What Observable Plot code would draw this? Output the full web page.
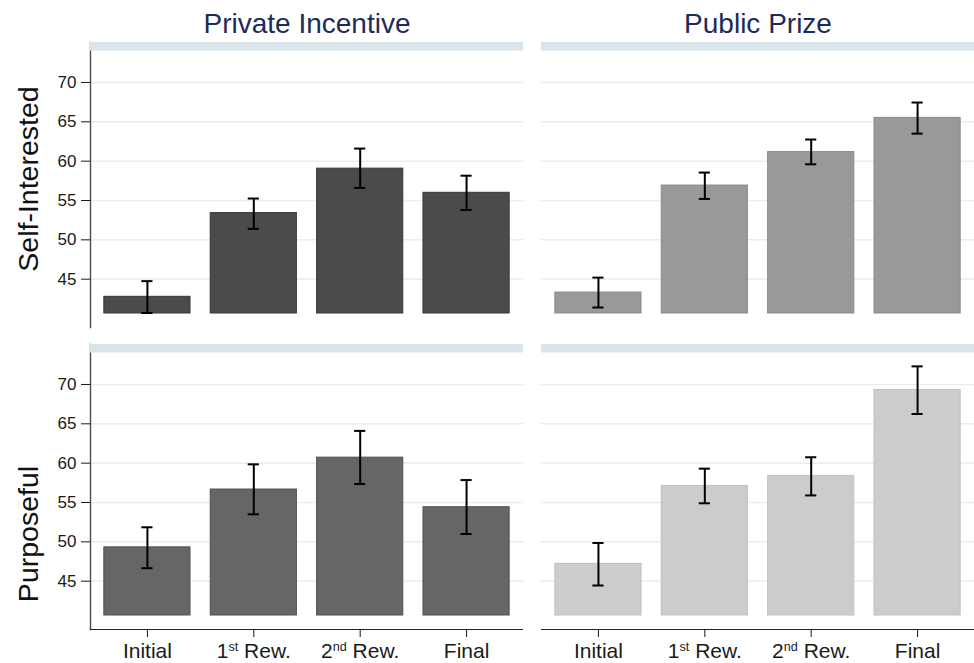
<!DOCTYPE html>
<html><head><meta charset="utf-8">
<script src="https://cdn.jsdelivr.net/npm/d3@7"></script>
<script src="https://cdn.jsdelivr.net/npm/@observablehq/plot@0.6"></script>
<style>body{margin:0;background:#fff} svg{display:block}</style>
</head><body><div id="chart"></div>
<script>
// ---- data ----
const stages = ["Initial", "1st Rew.", "2nd Rew.", "Final"];
const conditions = ["Private Incentive", "Public Prize"];
const groups = ["Self-Interested", "Purposeful"];
const yTicks = [45, 50, 55, 60, 65, 70];

const selfPrivateMean = [42.76, 53.4, 59.05, 55.98];
const selfPrivateLo   = [40.7, 51.4, 56.6, 53.8];
const selfPrivateHi   = [44.75, 55.25, 61.6, 58.15];

const selfPublicMean  = [43.3, 56.9, 61.15, 65.5];
const selfPublicLo    = [41.4, 55.2, 59.6, 63.5];
const selfPublicHi    = [45.2, 58.55, 62.75, 67.45];

const purpPrivateMean = [49.3, 56.65, 60.7, 54.4];
const purpPrivateLo   = [46.65, 53.5, 57.35, 51.0];
const purpPrivateHi   = [51.85, 59.85, 64.1, 57.85];

const purpPublicMean  = [47.2, 57.1, 58.35, 69.3];
const purpPublicLo    = [44.45, 54.9, 55.9, 66.25];
const purpPublicHi    = [49.85, 59.3, 60.75, 72.3];

// ---- styles ----
const barBase = 40.64;
const yMin = 38.86, yAxisTop = 74, yMax = 75.08;
const panelFill = {
  "Self-Interested|Private Incentive": "#4b4b4b",
  "Self-Interested|Public Prize": "#999999",
  "Purposeful|Private Incentive": "#666666",
  "Purposeful|Public Prize": "#cccccc"
};
const panelStroke = {
  "Self-Interested|Private Incentive": "#363636",
  "Self-Interested|Public Prize": "#8a8a8a",
  "Purposeful|Private Incentive": "#505050",
  "Purposeful|Public Prize": "#c0c0c0"
};

const panels = [
  {group: groups[0], condition: conditions[0], mean: selfPrivateMean, lo: selfPrivateLo, hi: selfPrivateHi},
  {group: groups[0], condition: conditions[1], mean: selfPublicMean, lo: selfPublicLo, hi: selfPublicHi},
  {group: groups[1], condition: conditions[0], mean: purpPrivateMean, lo: purpPrivateLo, hi: purpPrivateHi},
  {group: groups[1], condition: conditions[1], mean: purpPublicMean, lo: purpPublicLo, hi: purpPublicHi}
];
const rows = [];
for (const p of panels) {
  stages.forEach((s, i) => rows.push({group: p.group, condition: p.condition, stage: s,
    value: p.mean[i], lo: p.lo[i], hi: p.hi[i], key: p.group + "|" + p.condition}));
}

const rowLabel = (g, dy) => Plot.text([g], {
  fx: () => conditions[0], fy: d => d, text: d => d,
  frameAnchor: "left", textAnchor: "middle", lineAnchor: "middle",
  rotate: -90, dx: -62, dy, fontSize: 28.5, fill: "#111"
});

const chart = Plot.plot({
  width: 974, height: 663,
  marginLeft: 90, marginRight: 0, marginTop: 42, marginBottom: 34,
  style: {fontFamily: "'Liberation Sans', Arial, sans-serif", background: "white", color: "#1a1a1a"},
  fx: {domain: conditions, paddingInner: 0.04, paddingOuter: 0, round: false},
  fy: {domain: groups, paddingInner: 0.0563, paddingOuter: 0, round: false, axis: null},
  x: {domain: stages, paddingInner: 0.19, paddingOuter: 0.13, round: false},
  y: {domain: [yMin, yMax]},
  color: {type: "identity"},
  marks: [
    Plot.gridY(yTicks, {stroke: "#e6eef1", strokeOpacity: 1, strokeWidth: 1.5}),
    Plot.frame({anchor: "left", facetAnchor: "left", stroke: "#4a4a4a", strokeWidth: 1.4}),
    Plot.rect([0], {y1: yAxisTop, y2: yMax, fill: "#d9e5eb"}),
    Plot.ruleY([yMin], {facetAnchor: "bottom", stroke: "#222", strokeWidth: 1.2}),
    Plot.barY(rows, {fx: "condition", fy: "group", x: "stage", y1: barBase, y2: "value",
      fill: d => panelFill[d.key], stroke: d => panelStroke[d.key], strokeWidth: 1}),
    Plot.ruleX(rows, {fx: "condition", fy: "group", x: "stage", y1: "lo", y2: "hi", stroke: "#000", strokeWidth: 2}),
    Plot.tickY(rows, {fx: "condition", fy: "group", x: "stage", y: "lo", stroke: "#000", strokeWidth: 2, insetLeft: 37.5, insetRight: 37.5}),
    Plot.tickY(rows, {fx: "condition", fy: "group", x: "stage", y: "hi", stroke: "#000", strokeWidth: 2, insetLeft: 37.5, insetRight: 37.5}),
    Plot.axisY(yTicks, {anchor: "left", tickSize: 9, tickPadding: 5, fontSize: 17, label: null}),
    Plot.axisX({anchor: "bottom", tickSize: 8, tickPadding: 6, fontSize: 21, label: null}),
    Plot.axisFx({anchor: "top", tickSize: 0, tickPadding: 10, fontSize: 28, label: null, fill: "#1c2b5a"}),
    rowLabel(groups[0], -6),
    rowLabel(groups[1], 47)
  ]
});
document.getElementById("chart").appendChild(chart);

// superscripts for ordinal labels
d3.select(chart).selectAll("text").each(function() {
  const t = this.textContent;
  const m = /^(\d)(st|nd|rd|th) (.*)$/.exec(t);
  if (!m || this.children.length > 1) return;
  const el = d3.select(this);
  el.text(null);
  el.append("tspan").text(m[1]);
  el.append("tspan").attr("font-size", "0.6em").attr("dy", "-0.55em").text(m[2]);
  el.append("tspan").attr("dy", "0.33em").text(" " + m[3]);
});
</script>
</body></html>
